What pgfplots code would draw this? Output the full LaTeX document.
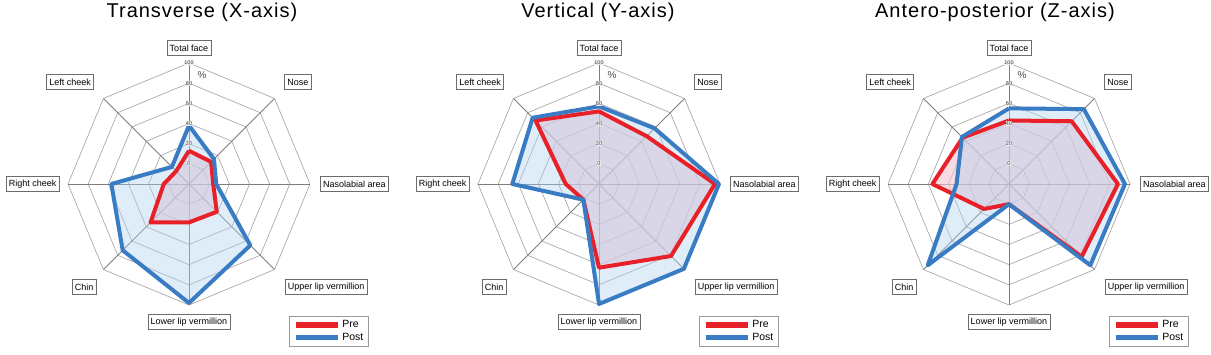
\documentclass[border=0pt]{standalone}
\usepackage{fontspec}
\setmainfont{Liberation Sans}
\newfontfamily\titlefont[LetterSpace=5]{Liberation Sans}
\usepackage{pgfplots}
\pgfplotsset{compat=1.18}
\usepackage{pgfplotstable}

\definecolor{prered}{RGB}{232,32,40}
\definecolor{postblue}{RGB}{58,124,196}
\definecolor{prefill}{RGB}{240,195,208}
\definecolor{postfill}{RGB}{175,210,240}
\definecolor{ringgray}{RGB}{170,170,170}
\definecolor{spokegray}{RGB}{125,125,125}

% angle: Total face, Nose, Nasolabial area, Upper lip vermillion,
% Lower lip vermillion, Chin, Right cheek, Left cheek, (closing)
\pgfplotstableread{
angle pre post
90    13  38
45    11  15
0      4   7
-45   19  66
-90   18  98
-135  34  73
-180   5  57
-225  -2   4
-270  13  38
}\dataX
\pgfplotstableread{
angle pre post
90    52  57
45    47  58
0     95  99
-45   81  99
-90   63  99
-135   2   2
-180  13  66
-225  69  73
-270  52  57
}\dataY
\pgfplotstableread{
angle pre post
90    43  55
45    68  85
0     88  95
-45   82  94
-90    0   0
-135  15  94
-180  56  32
-225  45  46
-270  43  55
}\dataZ

\pgfplotsset{
  legend image code/.code={\draw[#1] (0pt,0pt) -- (42pt,0pt);},
  radar/.style={hide axis, clip=false, x=1.0083pt, y=1.0083pt,
    xmin=-125, xmax=125, ymin=-125, ymax=125, anchor=origin,
    legend style={at={(axis description cs:1.056,-0.084)}, anchor=center,
      draw=gray!80, line width=0.9pt, font=\fontsize{10.5}{12}\selectfont,
      inner xsep=3pt, inner ysep=2.5pt, row sep=0pt, cells={anchor=west}},
  },
}
\tikzset{
  lbl/.style={draw=gray!85!black, line width=0.7pt, fill=white, font=\fontsize{9}{10}\selectfont,
    inner xsep=2.8pt, inner ysep=0pt, minimum height=15pt},
  tk/.style={font=\fontsize{5.5}{5.5}\selectfont, text=gray!55!black, fill=gray!15, inner sep=0.4pt},
}

\newcommand{\radargrid}{%
  \pgfplotsinvokeforeach{20,40,60,80,100,120}{%
    \addplot[ringgray, line width=0.7pt, data cs=polar, forget plot] coordinates {(90,##1)(45,##1)(0,##1)(-45,##1)(-90,##1)(-135,##1)(180,##1)(135,##1)(90,##1)};
  }%
  \pgfplotsinvokeforeach{0,45,90,135,180,225,270,315}{%
    \addplot[spokegray, line width=0.8pt, data cs=polar, forget plot] coordinates {(##1,0)(##1,120)};
  }%
}
\newcommand{\radardata}[1]{%
  \addplot[draw=none, fill=prefill, fill opacity=0.6, data cs=polar, forget plot] table[x=angle, y expr=\thisrow{pre}+20]{#1};
  \addplot[draw=none, fill=postfill, fill opacity=0.4, data cs=polar, forget plot] table[x=angle, y expr=\thisrow{post}+20]{#1};
  \addplot[prered, line width=4pt, line join=round, data cs=polar, forget plot] table[x=angle, y expr=\thisrow{pre}+20]{#1};
  \addplot[postblue, line width=4pt, line join=round, data cs=polar, forget plot] table[x=angle, y expr=\thisrow{post}+20]{#1};
}
\newcommand{\radarlabels}{%
  \node[tk] at (axis cs:0,20) {0};
  \node[tk] at (axis cs:0,40) {20};
  \node[tk] at (axis cs:0,60) {40};
  \node[tk] at (axis cs:0,80) {60};
  \node[tk] at (axis cs:0,100) {80};
  \node[tk] at (axis cs:0,120) {100};
  \node[font=\fontsize{10}{10}\selectfont, text=gray!60!black] at (axis cs:13,108) {\%};
  \node[lbl] at (axis cs:0,135) {Total face};
  \node[lbl] at (axis cs:108,101) {Nose};
  \node[lbl] at (axis cs:164,0) {Nasolabial area};
  \node[lbl] at (axis cs:136,-102) {Upper lip vermillion};
  \node[lbl] at (axis cs:0,-137) {Lower lip vermillion};
  \node[lbl] at (axis cs:-104,-102) {Chin};
  \node[lbl] at (axis cs:-155,0) {Right cheek};
  \node[lbl] at (axis cs:-118,101) {Left cheek};
}

\begin{document}
\begin{tikzpicture}
\path[use as bounding box] (0,0) rectangle (1211pt,354pt);

\begin{axis}[radar, at={(189pt,170pt)}]
  \addlegendimage{prered, line width=5.5pt}
  \addlegendimage{postblue, line width=5.5pt}
  \radargrid
  \radardata{\dataX}
  \radarlabels
  \legend{Pre,Post}
\end{axis}

\begin{axis}[radar, at={(599pt,170pt)}]
  \addlegendimage{prered, line width=5.5pt}
  \addlegendimage{postblue, line width=5.5pt}
  \radargrid
  \radardata{\dataY}
  \radarlabels
  \legend{Pre,Post}
\end{axis}

\begin{axis}[radar, at={(1009pt,170pt)}]
  \addlegendimage{prered, line width=5.5pt}
  \addlegendimage{postblue, line width=5.5pt}
  \radargrid
  \radardata{\dataZ}
  \radarlabels
  \legend{Pre,Post}
\end{axis}

\node[anchor=base, font=\titlefont\fontsize{20}{24}\selectfont] at (202pt,336.5pt) {Transverse (X-axis)};
\node[anchor=base, font=\titlefont\fontsize{20}{24}\selectfont] at (598pt,336.5pt) {Vertical (Y-axis)};
\node[anchor=base, font=\titlefont\fontsize{20}{24}\selectfont] at (995pt,336.5pt) {Antero-posterior (Z-axis)};
\end{tikzpicture}
\end{document}
